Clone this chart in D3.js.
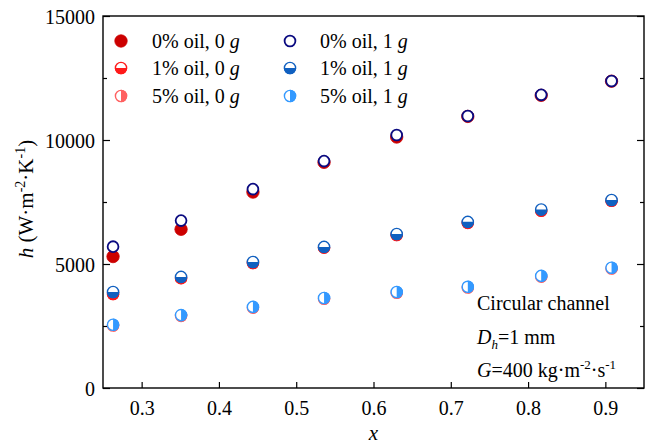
<!DOCTYPE html>
<html>
<head>
<meta charset="utf-8">
<script src="https://cdn.jsdelivr.net/npm/d3@7/dist/d3.min.js"></script>
<style>
  html, body { margin: 0; padding: 0; background: #fff; }
  svg { display: block; }
  svg text { font-family: "Liberation Serif", "Times New Roman", serif; fill: #000; }
</style>
</head>
<body>
<svg id="chart" width="653" height="448"></svg>
<script>
// Vapor quality values shared by every series
const quality = [0.263, 0.351, 0.444, 0.536, 0.630, 0.722, 0.817, 0.908];

// Heat transfer coefficient h (W·m⁻²·K⁻¹), normal gravity (0 g)
const oil0_g0 = [5300, 6400, 7900, 9100, 10120, 10950, 11800, 12370];
const oil1_g0 = [3790, 4430, 5040, 5660, 6170, 6660, 7150, 7550];
const oil5_g0 = [2520, 2910, 3240, 3600, 3840, 4050, 4490, 4820];

// Heat transfer coefficient h, with 1 g
const oil0_g1 = [5700, 6750, 8020, 9150, 10200, 10970, 11820, 12380];
const oil1_g1 = [3870, 4480, 5080, 5690, 6210, 6700, 7200, 7580];
const oil5_g1 = [2550, 2940, 3270, 3630, 3870, 4080, 4520, 4850];

const seriesNames = ["0% oil, 0 ", "1% oil, 0 ", "5% oil, 0 ", "0% oil, 1 ", "1% oil, 1 ", "5% oil, 1 "];
const xTicks = [0.3, 0.4, 0.5, 0.6, 0.7, 0.8, 0.9];
const yTicks = [0, 5000, 10000, 15000];
const yMinorTicks = [2500, 7500, 12500];

const series = [
  { name: seriesNames[0], values: oil0_g0, color: "#cc0000", fill: "full" },
  { name: seriesNames[1], values: oil1_g0, color: "#ff1a1a", fill: "bottom" },
  { name: seriesNames[2], values: oil5_g0, color: "#ff6060", fill: "right" },
  { name: seriesNames[3], values: oil0_g1, color: "#0a0a80", fill: "open" },
  { name: seriesNames[4], values: oil1_g1, color: "#1060c0", fill: "bottom" },
  { name: seriesNames[5], values: oil5_g1, color: "#3399ff", fill: "right" }
];

const svg = d3.select("#chart");
const plot = { left: 103, right: 644, top: 16, bottom: 388 };

const x = d3.scaleLinear().domain([0.25, 0.95]).range([plot.left, plot.right]);
const y = d3.scaleLinear().domain([0, 15000]).range([plot.bottom, plot.top]);

const R = 6.2;
const halfArc = d3.arc().innerRadius(0).outerRadius(R);

function drawMarker(g, s) {
  if (s.fill === "full") {
    g.append("circle").attr("r", R).attr("fill", s.color).attr("stroke", s.color).attr("stroke-width", 0.8);
  } else if (s.fill === "open") {
    g.append("circle").attr("r", R - 0.8).attr("fill", "#fff").attr("stroke", s.color).attr("stroke-width", 1.8);
  } else {
    g.append("circle").attr("r", R - 0.6).attr("fill", "#fff").attr("stroke", s.color).attr("stroke-width", 1.4);
    const ang = s.fill === "bottom" ? [Math.PI / 2, Math.PI * 1.5] : [0, Math.PI];
    g.append("path")
      .attr("d", halfArc({ startAngle: ang[0], endAngle: ang[1] }))
      .attr("fill", s.color);
  }
}

// Data points: normal-gravity series first, 1 g series on top
series.forEach(s => {
  const grp = svg.append("g");
  s.values.forEach((v, i) => {
    const m = grp.append("g").attr("transform", `translate(${x(quality[i])},${y(v)})`);
    drawMarker(m, s);
  });
});

// Axes with inward ticks
const fontSize = 20;
const axB = svg.append("g").attr("transform", `translate(0,${plot.bottom})`)
  .call(d3.axisBottom(x).tickValues(xTicks).tickSize(-6).tickPadding(13).tickFormat(d3.format(".1f")));
const axL = svg.append("g").attr("transform", `translate(${plot.left},0)`)
  .call(d3.axisLeft(y).tickValues(yTicks).tickSize(-7).tickPadding(8).tickFormat(d3.format("d")));
const axLm = svg.append("g").attr("transform", `translate(${plot.left},0)`)
  .call(d3.axisLeft(y).tickValues(yMinorTicks).tickSize(-4).tickFormat(""));
const axR = svg.append("g").attr("transform", `translate(${plot.right},0)`)
  .call(d3.axisRight(y).tickValues(yTicks).tickSize(-7).tickFormat(""));
const axRm = svg.append("g").attr("transform", `translate(${plot.right},0)`)
  .call(d3.axisRight(y).tickValues(yMinorTicks).tickSize(-4).tickFormat(""));

[axB, axL, axLm, axR, axRm].forEach(a => {
  a.attr("font-size", fontSize);
  a.select(".domain").remove();
  a.selectAll(".tick line").attr("stroke", "#000").attr("stroke-width", 1.2);
  a.selectAll(".tick text").attr("fill", "#000");
});
axL.selectAll(".tick text").attr("dy", "0.35em");

// Frame
svg.append("rect")
  .attr("x", plot.left).attr("y", plot.top)
  .attr("width", plot.right - plot.left).attr("height", plot.bottom - plot.top)
  .attr("fill", "none").attr("stroke", "#000").attr("stroke-width", 1.4);

// Axis titles
svg.append("text")
  .attr("x", (plot.left + plot.right) / 2).attr("y", 440)
  .attr("text-anchor", "middle").attr("font-size", 21)
  .attr("font-style", "italic").text("x");

const yt = svg.append("text")
  .attr("transform", `translate(33,${(plot.top + plot.bottom) / 2 - 3}) rotate(-90)`)
  .attr("text-anchor", "middle").attr("font-size", 21);
yt.append("tspan").attr("font-style", "italic").text("h");
yt.append("tspan").text(" (W·m");
yt.append("tspan").attr("font-size", 14).attr("dy", -8).text("-2");
yt.append("tspan").attr("dy", 8).text("·K");
yt.append("tspan").attr("font-size", 14).attr("dy", -8).text("-1");
yt.append("tspan").attr("dy", 8).text(")");

// Legend
const legCols = [{ mx: 121, tx: 152 }, { mx: 290, tx: 320 }];
const legRows = [41, 68, 96];
series.forEach((s, i) => {
  const c = legCols[Math.floor(i / 3)], ry = legRows[i % 3];
  const m = svg.append("g").attr("transform", `translate(${c.mx},${ry})`);
  drawMarker(m, s);
  const t = svg.append("text").attr("x", c.tx).attr("y", ry + 7).attr("font-size", fontSize);
  t.append("tspan").text(s.name);
  t.append("tspan").attr("font-style", "italic").text("g");
});

// Conditions note
const note = svg.append("g").attr("font-size", fontSize);
note.append("text").attr("x", 477).attr("y", 310).text("Circular channel");
const n2 = note.append("text").attr("x", 477).attr("y", 344);
n2.append("tspan").attr("font-style", "italic").text("D");
n2.append("tspan").attr("font-style", "italic").attr("font-size", 13).attr("dy", 5).text("h");
n2.append("tspan").attr("dy", -5).text("=1 mm");
const n3 = note.append("text").attr("x", 477).attr("y", 377);
n3.append("tspan").attr("font-style", "italic").text("G");
n3.append("tspan").text("=400 kg·m");
n3.append("tspan").attr("font-size", 13).attr("dy", -8).text("-2");
n3.append("tspan").attr("dy", 8).text("·s");
n3.append("tspan").attr("font-size", 13).attr("dy", -8).text("-1");
</script>
</body>
</html>
